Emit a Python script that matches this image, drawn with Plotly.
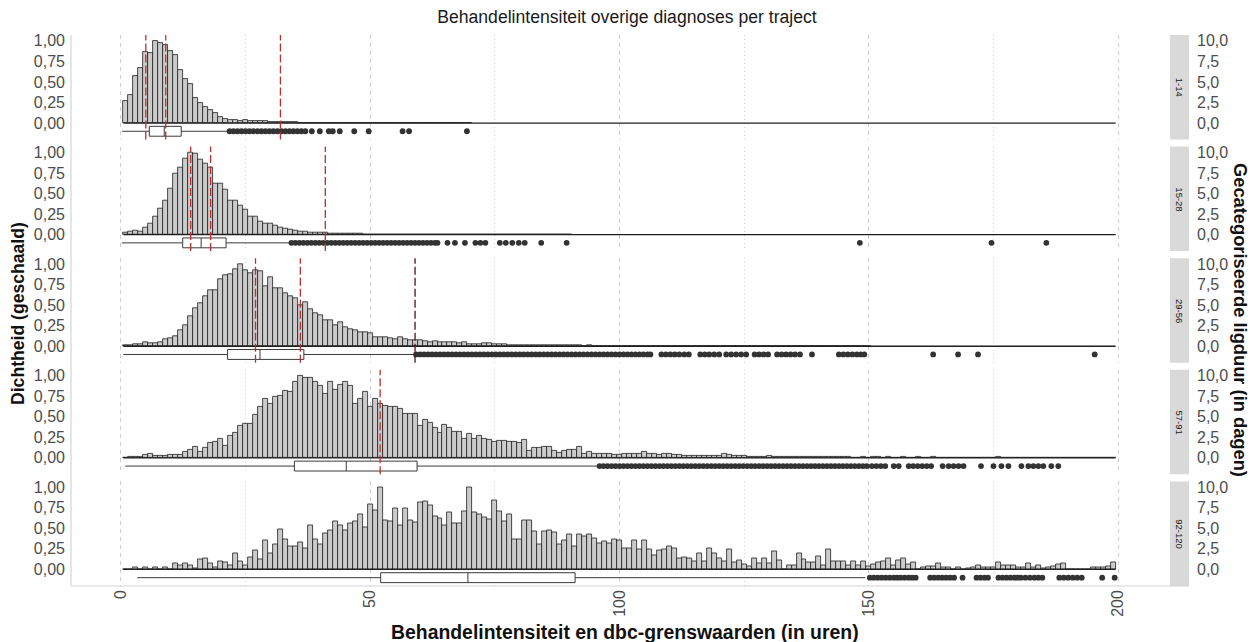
import plotly.graph_objects as go

# ---------------- data ----------------
TITLE = "Behandelintensiteit overige diagnoses per traject"
X_TITLE = "Behandelintensiteit en dbc-grenswaarden (in uren)"
Y_TITLE = "Dichtheid (geschaald)"
Y2_TITLE = "Gecategoriseerde ligduur (in dagen)"
FACETS = ["1-14", "15-28", "29-56", "57-91", "92-120"]

X_TICKS = [0, 50, 100, 150, 200]
Y_TICKS = [0, 0.25, 0.5, 0.75, 1.0]
Y2_TICKS = [0, 2.5, 5.0, 7.5, 10.0]
BIN_LO, BIN_HI = 0.5, 199.5

P1_DENS = [0.27, 0.34, 0.57, 0.67, 0.86, 0.85, 1.00, 0.97, 0.95, 0.87,
           0.83, 0.64, 0.54, 0.47, 0.30, 0.24, 0.20, 0.16, 0.12, 0.07,
           0.045, 0.04, 0.04, 0.025, 0.035, 0.025, 0.02, 0.02, 0.02, 0.012,
           0.015, 0.01, 0.01, 0.008, 0.008, 0.006, 0.006, 0.005, 0.004, 0.005,
           0.003, 0.003, 0.002, 0.003, 0.002, 0.002, 0.001, 0.002, 0.001, 0.001,
           0.001, 0, 0.001, 0, 0, 0.001, 0.001, 0, 0, 0,
           0, 0, 0, 0, 0, 0, 0, 0, 0.001, 0]

P2_DENS = [0.02, 0.04, 0.045, 0.04, 0.08, 0.14, 0.22, 0.32, 0.41, 0.56,
           0.74, 0.81, 0.92, 1.00, 0.98, 0.91, 0.86, 0.81, 0.62, 0.62,
           0.55, 0.41, 0.41, 0.35, 0.30, 0.22, 0.22, 0.16, 0.13, 0.13,
           0.11, 0.08, 0.07, 0.065, 0.045, 0.04, 0.035, 0.03, 0.02, 0.02,
           0.02, 0.015, 0.012, 0.012, 0.01, 0.01, 0.008, 0.008, 0.006, 0.006,
           0.005, 0.004, 0.004, 0.003, 0.004, 0.003, 0.002, 0.003, 0.002, 0.002,
           0.002, 0.001, 0.002, 0.001, 0.001, 0.001, 0.001, 0.001, 0.001, 0.001,
           0.001, 0.001, 0.001, 0, 0.001, 0, 0.001, 0, 0.001, 0,
           0.001, 0, 0, 0.001, 0, 0, 0, 0, 0.001, 0]

P3_DENS = [0.01, 0.012, 0.03, 0.03, 0.05, 0.035, 0.035, 0.045, 0.085, 0.10,
           0.12, 0.20, 0.25, 0.37, 0.46, 0.52, 0.61, 0.68, 0.68, 0.81,
           0.86, 0.87, 0.94, 1.00, 0.92, 0.89, 0.93, 0.91, 0.73, 0.84,
           0.70, 0.70, 0.64, 0.61, 0.58, 0.50, 0.53, 0.45, 0.40, 0.38,
           0.32, 0.32, 0.26, 0.29, 0.23, 0.21, 0.19, 0.17, 0.17, 0.16,
           0.105, 0.11, 0.11, 0.10, 0.09, 0.11, 0.09, 0.075, 0.07, 0.07,
           0.065, 0.055, 0.06, 0.055, 0.05, 0.045, 0.055, 0.04, 0.055, 0.03,
           0.03, 0.03, 0.035, 0.035, 0.03, 0.025, 0.02, 0.015, 0.015, 0.015,
           0.012, 0.012, 0.012, 0.01, 0.01, 0.01, 0.009, 0.009, 0.008, 0.008,
           0.007, 0.008, 0.006, 0.007, 0.006, 0.006, 0.005, 0.006, 0.005, 0.005,
           0.004, 0.005, 0.004, 0.004, 0.006, 0.004, 0.003, 0.004, 0.003, 0.004,
           0.003, 0.003, 0.005, 0.003, 0.003, 0.004, 0.002, 0.003, 0.002, 0.003,
           0.003, 0.002, 0.002, 0.003, 0.002, 0.002, 0.002, 0.003, 0.002, 0.002,
           0.002, 0.002, 0.001, 0.002, 0.002, 0.001, 0.002, 0.001, 0.001, 0.002,
           0.001, 0.001, 0.001, 0.002, 0.001, 0.001, 0.001, 0.001, 0.001, 0.001]

P4_DENS = [0.005, 0.01, 0.015, 0.01, 0.04, 0.055, 0.03, 0.03, 0.03, 0.04,
           0.035, 0.04, 0.07, 0.095, 0.135, 0.07, 0.125, 0.18, 0.20, 0.23,
           0.15, 0.27, 0.30, 0.39, 0.41, 0.41, 0.52, 0.62, 0.72, 0.66,
           0.74, 0.76, 0.81, 0.80, 0.93, 1.00, 0.97, 0.97, 0.93, 0.88,
           0.78, 0.92, 0.83, 0.89, 0.93, 0.87, 0.66, 0.72, 0.80, 0.62,
           0.72, 0.66, 0.63, 0.62, 0.62, 0.60, 0.54, 0.53, 0.53, 0.39,
           0.46, 0.43, 0.37, 0.30, 0.40, 0.36, 0.32, 0.32, 0.23, 0.29,
           0.23, 0.27, 0.23, 0.22, 0.19, 0.21, 0.21, 0.20, 0.19, 0.18,
           0.22, 0.08, 0.12, 0.12, 0.14, 0.14, 0.09, 0.06, 0.08, 0.10,
           0.10, 0.135, 0.055, 0.07, 0.05, 0.055, 0.05, 0.055, 0.04, 0.04,
           0.045, 0.045, 0.05, 0.05, 0.07, 0.05, 0.045, 0.04, 0.05, 0.045,
           0.04, 0.035, 0.03, 0.03, 0.025, 0.03, 0.025, 0.02, 0.025, 0.02,
           0.055, 0.04, 0.03, 0.03, 0.02, 0.015, 0.01, 0.012, 0.01, 0.02,
           0.01, 0.01, 0.015, 0.01, 0.01, 0.015, 0.01, 0.008, 0.01, 0.01,
           0.008, 0.008, 0.01, 0.008, 0.008, 0.01, 0.006, 0.006, 0.008, 0.006,
           0.008, 0.01, 0.006, 0.015, 0.006, 0.006, 0.01, 0.006, 0.005, 0.012,
           0.005, 0.005, 0.008, 0.006, 0.005, 0.004, 0.005, 0.004, 0.004, 0.005,
           0.004, 0.004, 0.003, 0.005, 0.004, 0.012, 0.004, 0.003, 0.004, 0.003,
           0.003, 0.005, 0.003, 0.003, 0.004, 0.003, 0.002, 0.003, 0.002, 0.003,
           0.002, 0.002, 0.002, 0.002, 0.002, 0.002, 0.002, 0.002, 0.002]

P5_DENS = [0, 0, 0.025, 0, 0.025, 0, 0.025, 0, 0.025, 0,
           0.07, 0.05, 0.07, 0.05, 0.01, 0.12, 0.14, 0.07, 0.02, 0.10,
           0.08, 0.05, 0.19, 0.10, 0.05, 0.145, 0.23, 0.12, 0.35, 0.19,
           0.31, 0.49, 0.37, 0.28, 0.28, 0.33, 0.26, 0.54, 0.37, 0.30,
           0.44, 0.47, 0.58, 0.54, 0.47, 0.56, 0.58, 0.67, 0.51, 0.79,
           0.72, 1.00, 0.60, 0.58, 0.74, 0.54, 0.74, 0.60, 0.57, 0.81,
           0.83, 0.78, 0.65, 0.62, 0.54, 0.69, 0.56, 0.56, 0.70, 1.00,
           0.69, 0.67, 0.63, 0.61, 0.84, 0.70, 0.58, 0.67, 0.37, 0.37,
           0.60, 0.60, 0.46, 0.31, 0.46, 0.48, 0.45, 0.30, 0.35, 0.42,
           0.28, 0.42, 0.40, 0.42, 0.38, 0.32, 0.34, 0.32, 0.37, 0.35,
           0.26, 0.26, 0.35, 0.24, 0.35, 0.24, 0.17, 0.23, 0.24, 0.28,
           0.26, 0.13, 0.15, 0.13, 0.10, 0.20, 0.10, 0.26, 0.19, 0.13,
           0.10, 0.24, 0.09, 0.11, 0.06, 0.04, 0.13, 0.07, 0.13, 0.07,
           0.22, 0.105, 0, 0.055, 0.055, 0.19, 0.12, 0.09, 0.09, 0.16,
           0.055, 0.24, 0.10, 0.10, 0.10, 0.05, 0.10, 0.05, 0.10, 0.04,
           0.065, 0.09, 0.10, 0.13, 0.045, 0.11, 0.13, 0.06, 0.08, 0,
           0.02, 0.04, 0.04, 0.07, 0.03, 0.02, 0, 0.02, 0, 0.01,
           0.02, 0.05, 0.03, 0.02, 0.03, 0.08, 0.05, 0.05, 0.05, 0.02,
           0.03, 0.07, 0.03, 0.05, 0.01, 0.02, 0.04, 0.06, 0.07, 0,
           0, 0, 0, 0, 0.02, 0.02, 0.03, 0.04, 0.08]

DENSITIES = [P1_DENS, P2_DENS, P3_DENS, P4_DENS, P5_DENS]

# box-plot statistics (hours)
BOX_LOW = [0.25, 0.2, 0.5, 0.9, 3.3]
BOX_Q1 = [5.7, 12.4, 21.4, 34.8, 52.1]
BOX_MED = [8.7, 16.1, 27.9, 45.2, 69.6]
BOX_Q3 = [12.1, 21.1, 36.7, 59.4, 91.1]
BOX_HIGH = [21.4, 33.8, 58.9, 95.7, 149.3]
BOX_Y = -0.1

P1_OUT = [21.8, 22.6, 23.4, 24.2, 25.0, 25.8, 26.6, 27.4, 28.2, 29.0, 29.8, 30.6,
          31.4, 32.2, 33.0, 33.8, 34.6, 35.4, 36.2, 37.0, 38.3, 39.9, 41.7, 42.5,
          43.9, 46.8, 49.7, 56.5, 57.8, 69.4]
P2_OUT = [34.2, 35.0, 35.8, 36.6, 37.4, 38.2, 39.0, 39.8, 40.6, 41.4, 42.2, 43.0,
          43.8, 44.6, 45.4, 46.2, 47.0, 47.8, 48.6, 49.4, 50.2, 51.0, 51.8, 52.6,
          53.4, 54.2, 55.0, 55.8, 56.6, 57.4, 58.2, 59.0, 59.8, 60.6, 61.4, 62.2,
          63.0, 63.5, 65.5, 67.0, 69.0, 71.1, 72.1, 73.1, 76.0, 77.2, 78.5, 79.8,
          81.0, 84.3, 89.4, 148.2, 174.6, 185.6]
P3_OUT = [59.2, 60.0, 60.8, 61.6, 62.4, 63.2, 64.0, 64.8, 65.6, 66.4, 67.2, 68.0,
          68.8, 69.6, 70.4, 71.2, 72.0, 72.8, 73.6, 74.4, 75.2, 76.0, 76.8, 77.6,
          78.4, 79.2, 80.0, 80.8, 81.6, 82.4, 83.2, 84.0, 84.8, 85.6, 86.4, 87.2,
          88.0, 88.8, 89.6, 90.4, 91.2, 92.0, 92.8, 93.6, 94.4, 95.2, 96.0, 96.8,
          97.6, 98.4, 99.2, 100.0, 100.8, 101.6, 102.4, 103.2, 104.0, 104.8, 105.6,
          106.2, 108.4, 109.3, 110.2, 111.1, 112.0, 113.0, 113.9, 116.2, 117.1,
          118.0, 119.0, 120.0, 121.4, 122.4, 123.4, 124.4, 125.4, 127.1, 128.0,
          128.9, 129.8, 131.6, 132.5, 133.4, 134.3, 135.2, 136.2, 138.6, 144.0,
          144.9, 145.8, 146.7, 147.6, 148.4, 149.1, 162.9, 167.9, 171.9, 195.3]
P4_OUT = [96.0, 96.8, 97.6, 98.4, 99.2, 100.0, 100.8, 101.6, 102.4, 103.2, 104.0,
          104.8, 105.6, 106.4, 107.2, 108.0, 108.8, 109.6, 110.4, 111.2, 112.0,
          112.8, 113.6, 114.4, 115.2, 116.0, 116.8, 117.6, 118.4, 119.2, 120.0,
          120.8, 121.6, 122.4, 123.2, 124.0, 124.8, 125.6, 126.4, 127.2, 128.0,
          128.8, 129.6, 130.4, 131.2, 132.0, 132.8, 133.6, 134.4, 135.2, 136.0,
          136.8, 137.6, 138.4, 139.2, 140.0, 140.8, 141.6, 142.4, 143.2, 144.0,
          144.8, 145.6, 146.4, 147.2, 148.0, 148.8, 149.6, 150.6, 151.5, 152.4,
          153.3, 155.0, 156.0, 158.0, 158.9, 159.8, 160.7, 161.6, 162.5, 164.8,
          166.0, 167.0, 168.0, 169.0, 172.5, 175.0, 176.6, 178.0, 180.6, 182.0,
          183.0, 184.0, 185.0, 186.6, 188.0]
P5_OUT = [150.2, 151.0, 151.8, 152.6, 153.4, 154.2, 155.0, 155.7, 156.4, 157.2,
          158.0, 158.7, 159.4, 162.3, 163.1, 163.9, 164.7, 165.5, 166.3, 167.1,
          168.8, 171.6, 172.4, 173.2, 173.9, 176.0, 176.8, 177.6, 178.4, 179.2,
          179.8, 180.5, 181.4, 182.3, 183.2, 184.0, 184.8, 188.2, 189.1, 190.0,
          190.9, 191.8, 192.7, 196.8, 199.3]
OUTLIERS = [P1_OUT, P2_OUT, P3_OUT, P4_OUT, P5_OUT]

# dbc threshold lines per facet: (value, colour key)
THRESHOLDS = [[(5, "red"), (9, "red"), (32, "red")],
              [(14, "red"), (18, "red"), (41, "red")],
              [(27, "red"), (36, "red"), (59, "dark")],
              [(52, "red")],
              []]

# ---------------- layout (pixels) ----------------
W, H = 1252, 642
L, R, T, B = 71, 57, 35, 56
PW, PH = W - L - R, H - T - B
PANEL_RIGHT = 1168
STRIP_X0, STRIP_X1 = 1170, 1189
PANEL_TOPS = [35, 146.6, 258.2, 369.8, 481.4]
PANEL_H = 104.5
YR = [-0.2, 1.07]

FONT = "Liberation Sans, Arial, sans-serif"
TICK_COL = "#4d4d4d"
GRID_COL = "#cfcfcf"
LINE_COLS = {"red": "#b8312f", "dark": "#5c1010"}


def px_x(p):
    return (p - L) / PW


def px_y(p):
    return (T + PH - p) / PH


fig = go.Figure()
shapes, annotations = [], []
xdom = [0, px_x(PANEL_RIGHT)]

for i in range(5):
    n = i + 1
    xa = "x" if n == 1 else f"x{n}"
    ya = "y" if n == 1 else f"y{n}"
    y2 = f"y{n + 5}"
    dens = DENSITIES[i]
    centers = list(range(1, len(dens) + 1))
    fig.add_trace(go.Bar(x=centers, y=dens, width=1, xaxis=xa, yaxis=ya,
                         marker=dict(color="#cbcbcb", line=dict(color="#1f1f1f", width=0.8)),
                         showlegend=False, hoverinfo="skip"))
    fig.add_trace(go.Box(y=[BOX_Y], q1=[BOX_Q1[i]], median=[BOX_MED[i]], q3=[BOX_Q3[i]],
                         lowerfence=[BOX_LOW[i]], upperfence=[BOX_HIGH[i]],
                         orientation="h", width=0.12, whiskerwidth=0,
                         fillcolor="white", line=dict(color="#3a3a3a", width=1),
                         xaxis=xa, yaxis=ya, showlegend=False, hoverinfo="skip",
                         boxpoints=False))
    fig.add_trace(go.Scatter(x=OUTLIERS[i], y=[BOX_Y] * len(OUTLIERS[i]), mode="markers",
                             marker=dict(color="#333333", size=5.8, line=dict(width=0)),
                             xaxis=xa, yaxis=ya, showlegend=False, hoverinfo="skip"))
    fig.add_trace(go.Scatter(x=[None], y=[None], xaxis=xa, yaxis=y2,
                             showlegend=False, hoverinfo="skip"))

    top, bot = PANEL_TOPS[i], PANEL_TOPS[i] + PANEL_H
    dom = [px_y(bot), px_y(top)]
    axkey = "xaxis" if n == 1 else f"xaxis{n}"
    yakey = "yaxis" if n == 1 else f"yaxis{n}"
    fig.layout[axkey] = dict(domain=xdom, anchor=ya, range=[-10, 210],
                             matches=None if n == 1 else "x",
                             tickvals=X_TICKS, showticklabels=(n == 5), tickangle=-90,
                             tickfont=dict(size=16, color=TICK_COL, family=FONT),
                             ticks="", showline=False, zeroline=False,
                             showgrid=True, gridcolor=GRID_COL, griddash="4px,4px", gridwidth=1,
                             minor=dict(tickvals=[25, 75, 125, 175], showgrid=True,
                                        gridcolor=GRID_COL, griddash="1px,3px", gridwidth=1),
                             fixedrange=True)
    fig.layout[yakey] = dict(domain=dom, anchor=xa, range=YR, tickvals=Y_TICKS,
                             tickformat=".2f", showgrid=False, zeroline=False, showline=False,
                             ticks="", ticklabelstandoff=5,
                             tickfont=dict(size=16, color=TICK_COL, family=FONT))
    fig.layout[f"yaxis{n + 5}"] = dict(overlaying=ya, side="right", anchor="free", position=1.0,
                                       range=[YR[0] * 10, YR[1] * 10], tickvals=Y2_TICKS,
                                       tickformat=".1f", showgrid=False, zeroline=False,
                                       showline=False, ticks="", ticklabelstandoff=1,
                                       tickfont=dict(size=16, color=TICK_COL, family=FONT))
    # baseline of histogram
    shapes.append(dict(type="line", xref=xa, yref=ya, x0=BIN_LO, x1=BIN_HI, y0=0, y1=0,
                       line=dict(color="#1f1f1f", width=1.3)))
    # threshold lines
    for val, ck in THRESHOLDS[i]:
        shapes.append(dict(type="line", xref=xa, yref=f"{ya} domain", x0=val, x1=val, y0=0, y1=1,
                           line=dict(color=LINE_COLS[ck], width=1.3, dash="8px,3px")))
    # strip
    shapes.append(dict(type="rect", xref="paper", yref="paper", x0=px_x(STRIP_X0), x1=px_x(STRIP_X1),
                       y0=dom[0], y1=dom[1], fillcolor="#d9d9d9", line=dict(width=0), layer="below"))
    annotations.append(dict(xref="paper", yref="paper", x=px_x((STRIP_X0 + STRIP_X1) / 2),
                            y=(dom[0] + dom[1]) / 2, text=FACETS[i], showarrow=False, textangle=90,
                            xanchor="center", yanchor="middle",
                            font=dict(size=9.5, color="#1a1a1a", family=FONT)))

# axis lines
shapes.append(dict(type="line", xref="paper", yref="paper", x0=0, x1=0, y0=0, y1=px_y(PANEL_TOPS[0]),
                   line=dict(color="#d4d4d4", width=1.2)))
shapes.append(dict(type="line", xref="paper", yref="paper", x0=0, x1=px_x(STRIP_X1), y0=0, y1=0,
                   line=dict(color="#d4d4d4", width=1.2)))

annotations.append(dict(xref="paper", yref="paper", x=px_x(625), y=px_y(632), text=f"<b>{X_TITLE}</b>",
                        showarrow=False, xanchor="center", yanchor="middle",
                        font=dict(size=19.4, color="#111111", family=FONT)))
annotations.append(dict(xref="paper", yref="paper", x=px_x(18), y=px_y(314), text=f"<b>{Y_TITLE}</b>",
                        showarrow=False, textangle=-90, xanchor="center", yanchor="middle",
                        font=dict(size=17.6, color="#111111", family=FONT)))
annotations.append(dict(xref="paper", yref="paper", x=px_x(1240), y=px_y(320), text=f"<b>{Y2_TITLE}</b>",
                        showarrow=False, textangle=90, xanchor="center", yanchor="middle",
                        font=dict(size=18.3, color="#111111", family=FONT)))

fig.update_layout(
    width=W, height=H, margin=dict(l=L, r=R, t=T, b=B, pad=0),
    paper_bgcolor="white", plot_bgcolor="white",
    separators=",.", bargap=0, barmode="overlay", showlegend=False,
    title=dict(text=TITLE, x=627 / W, y=1 - 17 / H, xanchor="center", yanchor="middle",
               font=dict(size=17.6, color="#1a1a1a", family=FONT)),
    shapes=shapes, annotations=annotations,
)

fig.write_html("out.html", config={"displayModeBar": False})
